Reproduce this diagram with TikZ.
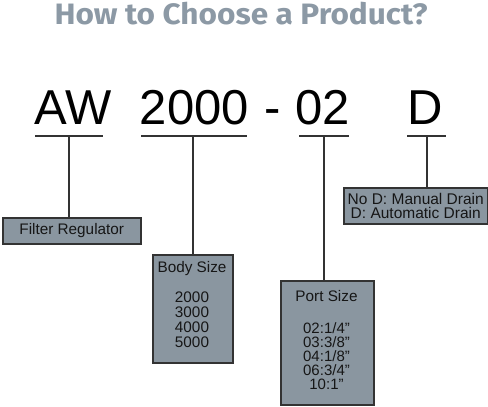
\documentclass[tikz,border=0pt]{standalone}
\usepackage{fontspec}
\setmainfont{Liberation Sans}
\newfontfamily\titlefont{Fira Sans}[FakeStretch=1.07]
\definecolor{titlegray}{HTML}{8C99A5}
\definecolor{boxfill}{HTML}{8A96A0}
\definecolor{linedark}{HTML}{333333}
\definecolor{txt}{HTML}{161616}
\begin{document}
\begin{tikzpicture}[x=1pt,y=-1pt,
  bigcode/.style={anchor=base, inner sep=0pt, font=\fontsize{49}{52}\selectfont, text=black},
  uline/.style={draw=linedark, line width=1.2pt},
  conn/.style={draw=linedark, line width=1.5pt},
  infobox/.style={draw=linedark, line width=1.5pt, fill=boxfill, inner sep=0pt},
  boxtext/.style={inner sep=0pt, text=txt, font=\fontsize{15.3}{15}\selectfont, align=center}
]
\useasboundingbox (0,0) rectangle (488,407);
% title
\node[anchor=base, inner sep=0pt, text=titlegray, font=\titlefont\bfseries\fontsize{29.5}{31}\selectfont] (title) at (241,24) {How to Choose a Product?};
% code letters
\node[bigcode] (aw) at (73.5,124) {AW};
\node[bigcode] (size) at (194.5,124) {2000};
\node[bigcode] (dash) at (272.5,124) {-};
\node[bigcode] (port) at (323,124) {02};
\node[bigcode] (drain) at (425,124) {D};
% underlines
\coordinate (awL) at (35,136); \coordinate (awR) at (103,136);
\coordinate (szL) at (141,136); \coordinate (szR) at (247,136);
\coordinate (ptL) at (299,136); \coordinate (ptR) at (349,136);
\coordinate (drL) at (407,136); \coordinate (drR) at (446,136);
\draw[uline] (awL) -- (awR);
\draw[uline] (szL) -- (szR);
\draw[uline] (ptL) -- (ptR);
\draw[uline] (drL) -- (drR);
\coordinate (awM) at (69,136);
\coordinate (szM) at (193,136);
\coordinate (ptM) at (324,136);
\coordinate (drM) at (427,136);
% boxes
\node[infobox, minimum width=138, minimum height=26, anchor=north west] (fr) at (2,217) {};
\node[boxtext] (frt) at (fr.center) {Filter Regulator};
\node[infobox, minimum width=80, minimum height=108, anchor=north west] (bs) at (152,254) {};
\node[boxtext, anchor=base] (bst) at (192,272) {Body Size};
\node[boxtext, anchor=north] (bsv) at (192,291.5) {2000\\3000\\4000\\5000};
\node[infobox, minimum width=93, minimum height=124, anchor=north west] (ps) at (280,280) {};
\node[boxtext, anchor=base] (pst) at (326.5,301.5) {Port Size};
\node[boxtext, anchor=north, font=\fontsize{15}{14}\selectfont] (psv) at (326.5,322.5) {02:1/4”\\03:3/8”\\04:1/8”\\06:3/4”\\10:1”};
\node[infobox, minimum width=144, minimum height=36, anchor=north west] (dr) at (343,187) {};
\node[boxtext, font=\fontsize{15.5}{14}\selectfont] (drt) at (dr.center) {No D: Manual Drain\\D: Automatic Drain};
% connectors
\draw[conn] (awM) -- (awM |- fr.north);
\draw[conn] (szM) -- (szM |- bs.north);
\draw[conn] (ptM) -- (ptM |- ps.north);
\draw[conn] (drM) -- (drM |- dr.north);
\end{tikzpicture}
\end{document}
